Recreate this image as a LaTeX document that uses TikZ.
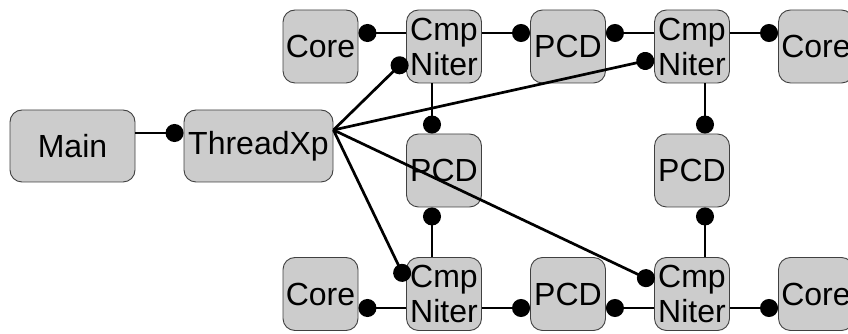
\documentclass[tikz,border=0pt]{standalone}
\usepackage{fontspec}
\setmainfont{Liberation Sans}
\usetikzlibrary{arrows.meta}

\begin{document}
\begin{tikzpicture}[x=1pt, y=1pt,
  box/.style={draw=black!75, line width=0.9pt, fill=black!20, rounded corners=12pt,
              minimum width=75pt, minimum height=73pt, inner sep=0pt,
              align=center, font=\fontsize{32}{35}\selectfont},
  link/.style={line width=2.7pt, -{Circle[length=18pt]}}]
\useasboundingbox (0,0) rectangle (848,334);

\node[box, minimum width=125pt, minimum height=72pt](1) at (72.5,188) {Main};
\node[box, minimum width=149pt, minimum height=72pt](2) at (258.5,188) {ThreadXp};

\node[box](3) at (320.5,287.5) {Core};
\node[box](4) at (444,287.5) {Cmp\\Niter};
\node[box](5) at (568,287.5) {PCD};
\node[box](6) at (692,287.5) {Cmp\\Niter};
\node[box](7) at (816,287.5) {Core};

\node[box](8) at (444,163.5) {PCD};
\node[box](9) at (692,163.5) {PCD};

\node[box](10) at (320.5,40) {Core};
\node[box](11) at (444,40) {Cmp\\Niter};
\node[box](12) at (568,40) {PCD};
\node[box](13) at (692,40) {Cmp\\Niter};
\node[box](14) at (816,40) {Core};

\draw[link] ([yshift=13pt]1.east) -- ([yshift=13pt]2.west);

% top row
\draw[link] ([yshift=13.5pt]4.west) -- ([yshift=13.5pt]3.east);
\draw[link] ([yshift=13.5pt]4.east) -- ([yshift=13.5pt]5.west);
\draw[link] ([yshift=13.5pt]6.west) -- ([yshift=13.5pt]5.east);
\draw[link] ([yshift=13.5pt]6.east) -- ([yshift=13.5pt]7.west);

% bottom row
\draw[link] ([yshift=-14pt]11.west) -- ([yshift=-14pt]10.east);
\draw[link] ([yshift=-14pt]11.east) -- ([yshift=-14pt]12.west);
\draw[link] ([yshift=-14pt]13.west) -- ([yshift=-14pt]12.east);
\draw[link] ([yshift=-14pt]13.east) -- ([yshift=-14pt]14.west);

% columns
\draw[link] ([xshift=-12pt]4.south) -- ([xshift=-12pt]8.north);
\draw[link] ([xshift=-12pt]11.north) -- ([xshift=-12pt]8.south);
\draw[link] ([xshift=13pt]6.south) -- ([xshift=13pt]9.north);
\draw[link] ([xshift=13pt]13.north) -- ([xshift=13pt]9.south);

% from ThreadXp
\coordinate (t) at ([yshift=16pt]2.east);
\draw[link] (t) -- ([yshift=-12.5pt]4.west);
\draw[link] (t) -- ([yshift=-12.5pt]6.west);
\draw[link] (t) -- ([yshift=13pt]11.west);
\draw[link] (t) -- ([yshift=12pt]13.west);

\end{tikzpicture}
\end{document}
